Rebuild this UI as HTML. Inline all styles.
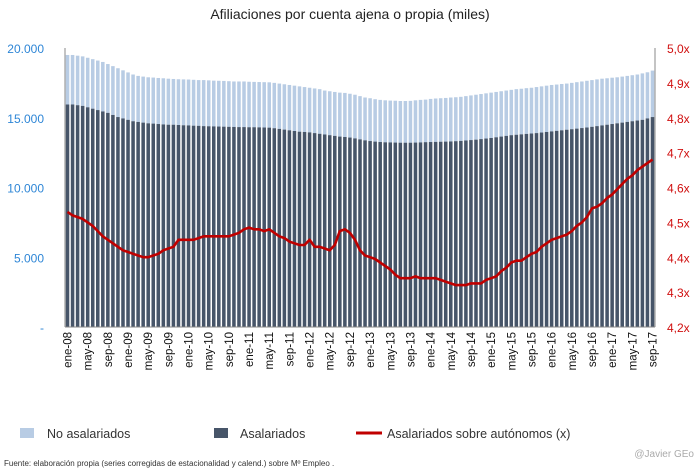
<!DOCTYPE html>
<html><head><meta charset="utf-8">
<style>
html,body{margin:0;padding:0;background:#fff;}
svg{display:block;font-family:"Liberation Sans",sans-serif;}
</style></head>
<body>
<svg id="chart" width="698" height="476" viewBox="0 0 698 476">
<text x="350" y="19" text-anchor="middle" font-size="14" fill="#222">Afiliaciones por cuenta ajena o propia  (miles)</text>
<g id="bars"></g>
<g id="axes"></g>
<g id="line"></g>
<g>
<rect x="20" y="428" width="14" height="10" fill="#b8cce4"/>
<text x="47" y="438" font-size="12.5" fill="#333">No asalariados</text>
<rect x="214" y="428" width="14" height="10" fill="#475569"/>
<text x="240" y="438" font-size="12.5" fill="#333">Asalariados</text>
<line x1="356" y1="433" x2="382" y2="433" stroke="#c00000" stroke-width="3"/>
<text x="387" y="438" font-size="12.5" fill="#333">Asalariados sobre autónomos (x)</text>
</g>
<text x="694" y="457" text-anchor="end" font-size="10" fill="#aaa">@Javier GEo</text>
<text x="4" y="466" font-size="8" fill="#333">Fuente: elaboración propia  (series corregidas de estacionalidad y calend.) sobre Mº Empleo .</text>
</svg>
<script>
const months=["ene","feb","mar","abr","may","jun","jul","ago","sep","oct","nov","dic"];
const totalValues=[
19500,19500,19450,19400,19300,19200,19100,19000,18850,18700,18550,18400,
18250,18100,18000,17950,17900,17880,17850,17830,17800,17780,17760,17750,
17740,17720,17700,17700,17680,17660,17650,17640,17620,17600,17600,17600,
17580,17570,17560,17550,17540,17500,17450,17400,17350,17300,17250,17200,
17150,17100,17050,16950,16900,16850,16800,16780,16720,16650,16550,16450,
16400,16330,16280,16250,16230,16220,16200,16200,16210,16250,16280,16300,
16350,16380,16400,16420,16450,16470,16500,16550,16600,16650,16700,16750,
16800,16850,16900,16950,17000,17050,17080,17120,17150,17200,17250,17300,
17350,17380,17420,17450,17500,17550,17600,17650,17700,17750,17800,17830,
17870,17900,17950,18000,18050,18100,18180,18260,18380];
const asalariadosValues=[
15950,15950,15900,15850,15750,15650,15550,15450,15350,15200,15050,14950,
14850,14750,14700,14650,14600,14580,14550,14520,14500,14500,14480,14460,
14450,14430,14420,14400,14390,14380,14370,14360,14350,14340,14330,14330,
14320,14320,14310,14300,14290,14250,14200,14150,14100,14050,14000,13980,
13950,13900,13850,13800,13750,13700,13650,13620,13580,13520,13450,13380,
13330,13290,13260,13240,13230,13220,13210,13210,13210,13220,13230,13250,
13260,13270,13280,13290,13300,13320,13340,13370,13400,13430,13470,13510,
13550,13600,13650,13700,13750,13780,13810,13840,13870,13900,13940,13980,
14020,14060,14100,14140,14180,14220,14260,14300,14350,14400,14450,14500,
14550,14600,14650,14700,14750,14800,14850,14950,15050];
const ratioValues=[
4.53,4.52,4.515,4.51,4.50,4.49,4.475,4.46,4.45,4.44,4.43,4.42,
4.415,4.41,4.405,4.40,4.40,4.405,4.41,4.42,4.425,4.43,4.45,4.45,
4.45,4.45,4.455,4.46,4.46,4.46,4.46,4.46,4.46,4.465,4.47,4.48,
4.485,4.48,4.48,4.475,4.48,4.47,4.46,4.455,4.445,4.44,4.435,4.435,
4.45,4.43,4.43,4.425,4.42,4.435,4.475,4.48,4.47,4.45,4.42,4.405,
4.40,4.395,4.385,4.375,4.365,4.35,4.34,4.34,4.34,4.345,4.34,4.34,
4.34,4.34,4.335,4.33,4.325,4.32,4.32,4.32,4.325,4.325,4.325,4.335,
4.34,4.345,4.36,4.37,4.385,4.39,4.39,4.40,4.41,4.415,4.43,4.44,
4.45,4.455,4.46,4.465,4.475,4.49,4.50,4.515,4.54,4.545,4.555,4.57,
4.58,4.595,4.61,4.625,4.635,4.65,4.66,4.67,4.68];
const leftTicks=[0,5000,10000,15000,20000];
const leftTickLabels=["-","5.000","10.000","15.000","20.000"];
const rightTicks=[4.2,4.3,4.4,4.5,4.6,4.7,4.8,4.9,5.0];
const rightTickLabels=["4,2x","4,3x","4,4x","4,5x","4,6x","4,7x","4,8x","4,9x","5,0x"];
const categories=ratioValues.map((v,i)=>months[i%12]+"-"+String(8+Math.floor(i/12)).padStart(2,"0"));

const NS="http://www.w3.org/2000/svg";
const X0=65,X1=655,Y0=327,Y1=48;
const n=categories.length, step=(X1-X0)/n;
const xC=i=>X0+step*(i+0.5);
const yL=v=>Y0-(v/20000)*(Y0-Y1);
const yR=v=>Y0-((v-4.2)/0.8)*(Y0-Y1);
function mk(tag,attrs,parent){const e=document.createElementNS(NS,tag);for(const k in attrs)e.setAttribute(k,attrs[k]);parent.appendChild(e);return e;}
const bars=document.getElementById('bars'),axes=document.getElementById('axes'),lineG=document.getElementById('line');
const bw=step*0.7;
for(let i=0;i<n;i++){
  const t=mk('rect',{x:xC(i)-bw/2,y:yL(totalValues[i]),width:bw,height:yL(asalariadosValues[i])-yL(totalValues[i]),fill:'#b8cce4'},bars);
  
  
  const a=mk('rect',{x:xC(i)-bw/2,y:yL(asalariadosValues[i]),width:bw,height:Y0-yL(asalariadosValues[i]),fill:'#475569'},bars);
  
  
}
const la=mk('line',{x1:X0,y1:Y1,x2:X0,y2:Y0,stroke:'#888','stroke-width':1},axes);


const ra=mk('line',{x1:X1,y1:Y1,x2:X1,y2:Y0,stroke:'#888','stroke-width':1},axes);


const ba=mk('line',{x1:X0,y1:Y0,x2:X1,y2:Y0,stroke:'#888','stroke-width':1},axes);


leftTicks.forEach((v,i)=>{const t=mk('text',{x:44,y:yL(v)+5,'text-anchor':'end','font-size':12,fill:'#2e86d6'},axes);t.textContent=leftTickLabels[i];
  
  });
rightTicks.forEach((v,i)=>{const t=mk('text',{x:667,y:yR(v)+5,'font-size':12,fill:'#d01010'},axes);t.textContent=rightTickLabels[i];
  
  });
for(let i=0;i<n;i+=4){const x=xC(i)+4;const t=mk('text',{x:0,y:0,'text-anchor':'end','font-size':11.5,fill:'#111',transform:`translate(${x},${Y0+5}) rotate(-90)`},axes);t.textContent=categories[i];
  
  }
const pts=ratioValues.map((v,i)=>xC(i).toFixed(1)+","+yR(v).toFixed(1)).join(" ");
const pl=mk('polyline',{points:pts,fill:'none',stroke:'#c00000','stroke-width':2.6,'stroke-linejoin':'round'},lineG);


</script>
</body></html>
